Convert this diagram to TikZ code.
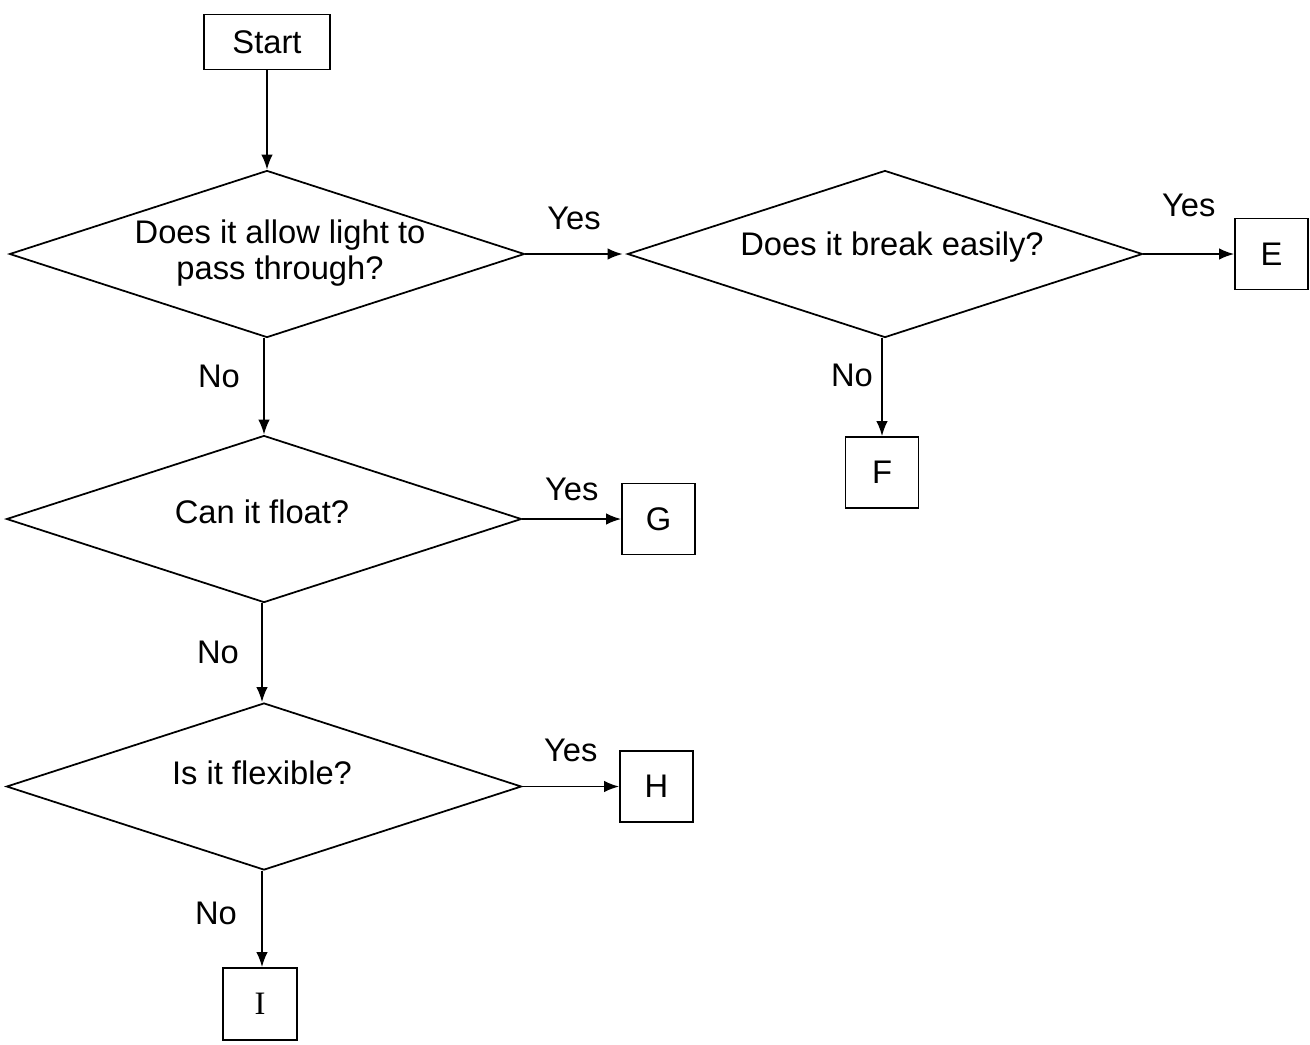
\documentclass[tikz,border=0pt]{standalone}
\usepackage{fontspec}
\setmainfont{Liberation Sans}
\newfontfamily\serifschrift{Liberation Serif}
\usetikzlibrary{shapes.geometric, arrows.meta}
\begin{document}
\begin{tikzpicture}[font=\fontsize{9.3}{10.2}\selectfont, line width=0.5pt,
	frage/.style={diamond, draw, inner sep=0pt, minimum width=5.15cm, minimum height=1.67cm},
	kasten/.style={rectangle, draw, inner sep=0pt, minimum width=0.73cm, minimum height=0.71cm},
	pfeil/.style={-{Latex[length=1.5mm, width=1.15mm]}}]
	\useasboundingbox (0,0) rectangle (13.1,-10.44);
	% Start
	\node[kasten, minimum width=1.26cm, minimum height=0.55cm] (start) at (2.67,-0.42) {Start};
	% Fragen
	\node[frage] (licht) at (2.67,-2.54) {};
	\node[align=center] (lichttext) at (2.80,-2.53) {Does it allow light to\\pass through?};
	\node[frage] (bruch) at (8.85,-2.54) {};
	\node (bruchtext) at (8.92,-2.47) {Does it break easily?};
	\node[frage] (schwimm) at (2.64,-5.19) {};
	\node (schwimmtext) at (2.62,-5.12) {Can it float?};
	\node[frage] (biegsam) at (2.64,-7.865) {};
	\node (biegsamtext) at (2.62,-7.73) {Is it flexible?};
	% Ergebnisse
	\node[kasten] (e) at (12.715,-2.54) {E};
	\node[kasten] (f) at (8.82,-4.725) {F};
	\node[kasten] (g) at (6.585,-5.19) {G};
	\node[kasten] (h) at (6.565,-7.865) {H};
	\node[kasten, minimum width=0.74cm, minimum height=0.72cm] (i) at (2.60,-10.04) {\serifschrift I};

	% Verbindungen
	\draw[pfeil] (start) -- (licht);
	\draw[pfeil] (licht.east) -- node[yshift=0.36cm] (ja1) {Yes} ([xshift=-0.04cm]bruch.west);
	\draw[pfeil] (bruch.east) -- node[yshift=0.49cm] (ja2) {Yes} (e.west);
	\draw[pfeil] ([xshift=-0.03cm]bruch.south) -- node[xshift=-0.30cm, yshift=0.12cm] (nein2) {No} ([xshift=-0.03cm]bruch.south |- f.north);
	\draw[pfeil] ([xshift=-0.03cm]licht.south) -- node[xshift=-0.45cm, yshift=0.10cm] (nein1) {No} (schwimm.north);
	\draw[pfeil] (schwimm.east) -- node[yshift=0.30cm] (ja3) {Yes} (g.west);
	\draw[pfeil] ([xshift=-0.02cm]schwimm.south) -- node[xshift=-0.44cm] (nein3) {No} ([xshift=-0.02cm]biegsam.north);
	\draw[pfeil] (biegsam.east) -- node[yshift=0.36cm] (ja4) {Yes} (h.west);
	\draw[pfeil] ([xshift=-0.02cm]biegsam.south) -- node[xshift=-0.46cm, yshift=0.06cm] (nein4) {No} ([xshift=-0.02cm]biegsam.south |- i.north);
\end{tikzpicture}
\end{document}
